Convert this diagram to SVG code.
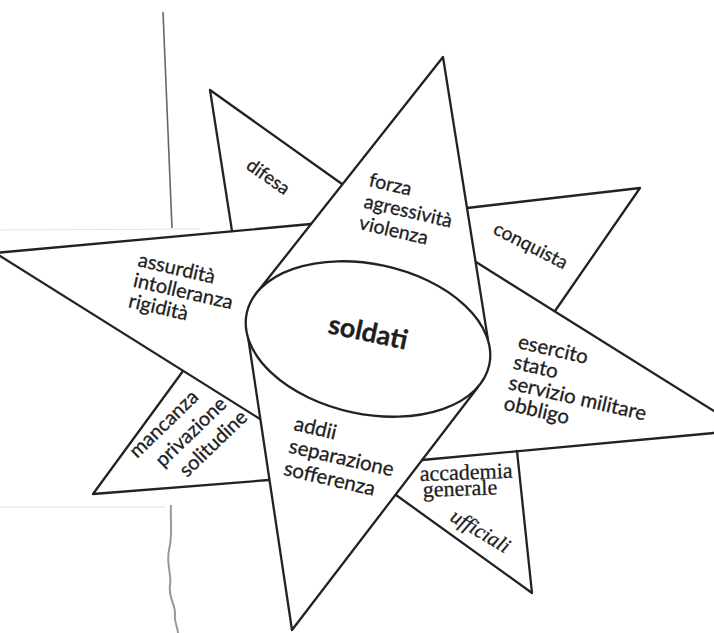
<svg xmlns="http://www.w3.org/2000/svg" width="714" height="633" viewBox="0 0 714 633">
<style>
.ln{fill:none;stroke:#222;stroke-width:2.3;stroke-linejoin:round;stroke-linecap:round}
.t{font-family:Lato,"Open Sans","Liberation Sans",sans-serif;fill:#1e1e1e;stroke:#1e1e1e;stroke-width:0.3}
.s{font-family:"Liberation Serif",serif;fill:#1e1e1e;stroke:#1e1e1e;stroke-width:0.3}
.faint{fill:none;stroke-width:1.2}
</style>
<rect width="714" height="633" fill="#fff"/>
<g id="scan-marks">
<line x1="0" y1="230" x2="200" y2="229" class="faint" stroke="#e2e2e2"/>
<line x1="0" y1="507" x2="165" y2="507" class="faint" stroke="#ddd"/>
<line x1="163" y1="12" x2="172" y2="228" stroke="#666" stroke-width="1.6"/>
<path d="M171,505 C170,520 173,535 169,550 C166,565 172,575 170,585 C168,598 176,605 175,615 C174,622 178,628 178,633" fill="none" stroke="#999" stroke-width="2"/>
</g>
<g id="connectors">
<path class="ln" d="M255,295 L443,57 L488,340"/>
<path class="ln" d="M247,330 L292,630 L478,387"/>
<path class="ln" d="M0,252.5 L311,224"/>
<path class="ln" d="M0,256 L260,419"/>
<path class="ln" d="M476,262 L714,411"/>
<path class="ln" d="M422,460 L714,433"/>
<path class="ln" d="M232,231 L210,90 L342,184"/>
<path class="ln" d="M467,208 L640,188 L555,311"/>
<path class="ln" d="M183,371 L93,494 L269,480"/>
<path class="ln" d="M517,451 L532,593 L396,495"/>
</g>
<g id="soldati">
<ellipse cx="368" cy="339" rx="124" ry="75" transform="rotate(12 368 339)" fill="#fff" stroke="#222" stroke-width="2.3"/>
<text class="t" x="327" y="333" style="font-size:27px;font-weight:bold" transform="rotate(12 327 333)">soldati</text>
</g>
<g id="difesa">
<text class="t" x="245" y="168" style="font-size:18.5px" transform="rotate(35 245 168)">difesa</text>
</g>
<g id="forza">
<text class="t" style="font-size:19.5px" transform="rotate(13 368 186)"><tspan x="368" y="186">forza</tspan><tspan x="368" dy="22">agressività</tspan><tspan x="368" dy="22">violenza</tspan></text>
</g>
<g id="conquista">
<text class="t" x="492" y="233" style="font-size:19px" transform="rotate(27 492 233)">conquista</text>
</g>
<g id="assurdita">
<text class="t" style="font-size:20px" transform="rotate(13 137 266)"><tspan x="137" y="266">assurdità</tspan><tspan x="137" dy="21">intolleranza</tspan><tspan x="137" dy="21">rigidità</tspan></text>
</g>
<g id="esercito">
<text class="t" style="font-size:20.5px" transform="rotate(13 517 348)"><tspan x="517" y="348">esercito</tspan><tspan x="517" dy="21">stato</tspan><tspan x="517" dy="21">servizio militare</tspan><tspan x="517" dy="21">obbligo</tspan></text>
</g>
<g id="mancanza">
<text class="t" x="137" y="459" style="font-size:20px" transform="rotate(-44 137 459)">mancanza</text>
<text class="t" x="163" y="468" style="font-size:20px" transform="rotate(-44 163 468)">privazione</text>
<text class="t" x="187" y="478" style="font-size:20px" transform="rotate(-44 187 478)">solitudine</text>
</g>
<g id="addii">
<text class="t" style="font-size:20.5px" transform="rotate(13 293 430)"><tspan x="293" y="430">addii</tspan><tspan x="293" dy="23">separazione</tspan><tspan x="293" dy="23">sofferenza</tspan></text>
</g>
<g id="accademia">
<text class="s" x="420" y="481" style="font-size:22px" transform="rotate(-2 420 481)">accademia</text>
<text class="s" x="423" y="497" style="font-size:22px" transform="rotate(-2 423 497)">generale</text>
<text class="s" x="449" y="520" style="font-size:21px;font-style:italic" transform="rotate(31 449 520)">ufficiali</text>
</g>
</svg>
